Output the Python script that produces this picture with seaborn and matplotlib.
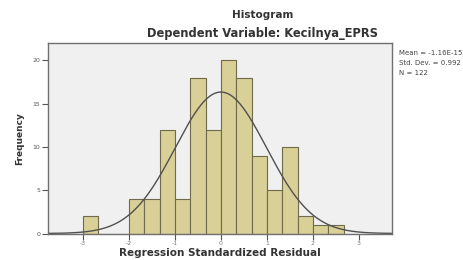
import numpy as np
import pandas as pd
import matplotlib
matplotlib.use("Agg")
import matplotlib.pyplot as plt
import seaborn as sns

# Data
bin_edges = [-3.0, -2.667, -2.333, -2.0, -1.667, -1.333, -1.0, -0.667, -0.333,
             0.0, 0.333, 0.667, 1.0, 1.333, 1.667, 2.0, 2.333, 2.667]
counts = [2, 0, 0, 4, 4, 12, 4, 18, 12, 20, 18, 9, 5, 10, 2, 1, 1]
res_mean = 0.0
res_sd = 0.992
n_obs = 122
x_ticks = [-3, -2, -1, 0, 1, 2, 3]
y_ticks = [0, 5, 10, 15, 20]
title = "Histogram"
subtitle = "Dependent Variable: Kecilnya_EPRS"
xlabel = "Regression Standardized Residual"
ylabel = "Frequency"
stats_lines = ["Mean = -1.16E-15", "Std. Dev. = 0.992", "N = 122"]

sns.set_style("white")
plt.rcParams['font.family'] = ['DejaVu Sans']

centers = [(bin_edges[i] + bin_edges[i + 1]) / 2 for i in range(len(counts))]
df = pd.DataFrame({"resid": centers, "count": counts})

fig = plt.figure(figsize=(4.64, 2.60), dpi=100)
ax = fig.add_axes([48 / 464, 1 - 233.5 / 260, (392 - 48) / 464, (233.5 - 43) / 260])
ax.set_facecolor("#f0f0f0")

sns.histplot(data=df, x="resid", weights="count", bins=bin_edges, ax=ax,
             color="#d8d096", edgecolor="#6e6a4a", linewidth=0.8, alpha=1.0)

# fitted normal curve
xs = np.linspace(-3.76, 3.72, 300)
bw = bin_edges[1] - bin_edges[0]
ys = n_obs * bw / (res_sd * np.sqrt(2 * np.pi)) * np.exp(-0.5 * ((xs - res_mean) / res_sd) ** 2)
ax.plot(xs, ys, color="#505050", linewidth=1.0)

ax.set_xlim(-3.76, 3.72)
ax.set_ylim(0, 22)
ax.set_xticks(x_ticks)
ax.set_yticks(y_ticks)
ax.set_xticklabels([str(t) for t in x_ticks], fontsize=4.5, color="#777777")
ax.set_yticklabels([str(t) for t in y_ticks], fontsize=4.5, color="#555555")
ax.tick_params(axis="both", direction="out", length=4, width=0.8, color="#555555", pad=1.5)
ax.tick_params(axis="x", bottom=True)
ax.tick_params(axis="y", left=True)
for s in ax.spines.values():
    s.set_color("#707070")
    s.set_linewidth(1.0)

ax.set_xlabel(xlabel, fontsize=7.5, fontweight="bold", color="#333333", labelpad=1.5)
ax.set_ylabel(ylabel, fontsize=6.5, fontweight="bold", color="#333333", labelpad=6)

fig.text(263 / 464, 1 - 15 / 260, title, ha="center", va="center", fontsize=7.5,
         fontweight="bold", color="#333333")
fig.text(263 / 464, 1 - 33 / 260, subtitle, ha="center", va="center", fontsize=8.3,
         fontweight="bold", color="#333333")

for i, line in enumerate(stats_lines):
    fig.text(399 / 464, 1 - (53 + i * 10) / 260, line, ha="left", va="center",
             fontsize=5, color="#444444")

fig.savefig("out.png", dpi=100, facecolor="white")
